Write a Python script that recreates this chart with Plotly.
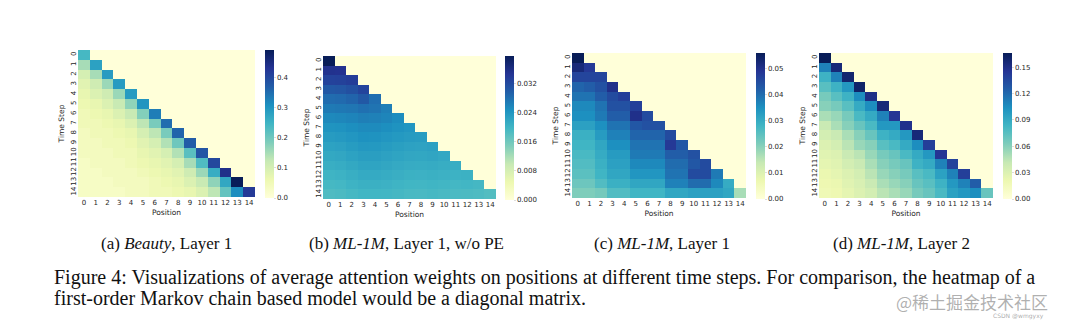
import plotly.graph_objects as go

W, H = 1080, 323

positions = list(range(15))
tick_labels = [str(i) for i in positions]

# Lower-triangular attention weights (row = time step, col = position)
beauty_l1 = [
    [0.24],
    [0.15, 0.28],
    [0.10, 0.15, 0.29],
    [0.08, 0.11, 0.16, 0.29],
    [0.07, 0.09, 0.11, 0.16, 0.29],
    [0.06, 0.07, 0.09, 0.12, 0.17, 0.30],
    [0.05, 0.06, 0.07, 0.09, 0.12, 0.18, 0.33],
    [0.05, 0.05, 0.06, 0.07, 0.09, 0.13, 0.19, 0.35],
    [0.04, 0.05, 0.05, 0.06, 0.07, 0.10, 0.13, 0.19, 0.36],
    [0.04, 0.04, 0.05, 0.05, 0.06, 0.08, 0.10, 0.14, 0.20, 0.37],
    [0.04, 0.04, 0.04, 0.05, 0.05, 0.07, 0.08, 0.10, 0.14, 0.22, 0.38],
    [0.03, 0.04, 0.04, 0.04, 0.05, 0.06, 0.07, 0.08, 0.10, 0.15, 0.23, 0.40],
    [0.03, 0.03, 0.04, 0.04, 0.04, 0.05, 0.06, 0.07, 0.08, 0.11, 0.16, 0.26, 0.44],
    [0.03, 0.03, 0.03, 0.04, 0.04, 0.04, 0.05, 0.06, 0.07, 0.09, 0.12, 0.17, 0.27, 0.49],
    [0.03, 0.03, 0.03, 0.03, 0.04, 0.04, 0.05, 0.05, 0.06, 0.07, 0.09, 0.13, 0.21, 0.31, 0.42],
]

ml1m_l1_nope = [
    [0.0394],
    [0.0350, 0.0348],
    [0.0328, 0.0330, 0.0334],
    [0.0302, 0.0305, 0.0312, 0.0326],
    [0.0282, 0.0284, 0.0290, 0.0302, 0.0280],
    [0.0268, 0.0270, 0.0272, 0.0278, 0.0274, 0.0264],
    [0.0254, 0.0256, 0.0259, 0.0264, 0.0262, 0.0258, 0.0250],
    [0.0242, 0.0244, 0.0248, 0.0252, 0.0252, 0.0248, 0.0244, 0.0240],
    [0.0233, 0.0235, 0.0240, 0.0245, 0.0244, 0.0240, 0.0236, 0.0233, 0.0231],
    [0.0224, 0.0226, 0.0232, 0.0237, 0.0236, 0.0232, 0.0228, 0.0225, 0.0223, 0.0226],
    [0.0216, 0.0218, 0.0224, 0.0229, 0.0229, 0.0225, 0.0221, 0.0218, 0.0217, 0.0219, 0.0215],
    [0.0208, 0.0210, 0.0216, 0.0221, 0.0221, 0.0218, 0.0214, 0.0211, 0.0210, 0.0212, 0.0209, 0.0209],
    [0.0200, 0.0202, 0.0208, 0.0213, 0.0213, 0.0210, 0.0207, 0.0204, 0.0203, 0.0205, 0.0203, 0.0202, 0.0204],
    [0.0193, 0.0195, 0.0201, 0.0205, 0.0205, 0.0203, 0.0200, 0.0197, 0.0196, 0.0198, 0.0196, 0.0195, 0.0196, 0.0194],
    [0.0186, 0.0188, 0.0193, 0.0197, 0.0197, 0.0196, 0.0194, 0.0191, 0.0190, 0.0192, 0.0190, 0.0189, 0.0188, 0.0187, 0.0183],
]

ml1m_l1 = [
    [0.0558],
    [0.052, 0.048],
    [0.046, 0.046, 0.046],
    [0.041, 0.042, 0.044, 0.050],
    [0.039, 0.039, 0.042, 0.045, 0.047],
    [0.036, 0.036, 0.039, 0.044, 0.044, 0.047],
    [0.035, 0.035, 0.038, 0.042, 0.042, 0.050, 0.045],
    [0.032, 0.032, 0.035, 0.039, 0.039, 0.043, 0.044, 0.044],
    [0.029, 0.029, 0.033, 0.037, 0.037, 0.041, 0.041, 0.041, 0.045],
    [0.028, 0.028, 0.031, 0.035, 0.035, 0.039, 0.039, 0.039, 0.048, 0.043],
    [0.027, 0.027, 0.030, 0.033, 0.033, 0.038, 0.038, 0.038, 0.042, 0.042, 0.044],
    [0.026, 0.026, 0.029, 0.032, 0.032, 0.036, 0.036, 0.036, 0.040, 0.040, 0.043, 0.045],
    [0.025, 0.025, 0.028, 0.031, 0.031, 0.034, 0.034, 0.034, 0.039, 0.039, 0.045, 0.045, 0.038],
    [0.023, 0.023, 0.026, 0.029, 0.029, 0.031, 0.031, 0.031, 0.037, 0.037, 0.040, 0.040, 0.036, 0.030],
    [0.021, 0.021, 0.022, 0.026, 0.026, 0.028, 0.028, 0.028, 0.031, 0.031, 0.032, 0.032, 0.032, 0.031, 0.017],
]

ml1m_l2 = [
    [0.166],
    [0.110, 0.155],
    [0.085, 0.110, 0.158],
    [0.075, 0.085, 0.100, 0.160],
    [0.065, 0.075, 0.085, 0.105, 0.150],
    [0.060, 0.065, 0.075, 0.090, 0.105, 0.155],
    [0.050, 0.055, 0.065, 0.080, 0.090, 0.110, 0.145],
    [0.040, 0.050, 0.060, 0.070, 0.080, 0.100, 0.100, 0.148],
    [0.035, 0.040, 0.050, 0.060, 0.070, 0.085, 0.090, 0.100, 0.155],
    [0.030, 0.035, 0.045, 0.055, 0.060, 0.075, 0.080, 0.090, 0.105, 0.140],
    [0.028, 0.030, 0.040, 0.045, 0.055, 0.065, 0.070, 0.080, 0.090, 0.100, 0.145],
    [0.025, 0.028, 0.035, 0.040, 0.050, 0.060, 0.065, 0.070, 0.085, 0.090, 0.110, 0.138],
    [0.022, 0.025, 0.030, 0.035, 0.045, 0.055, 0.060, 0.065, 0.075, 0.080, 0.095, 0.110, 0.140],
    [0.020, 0.022, 0.028, 0.032, 0.040, 0.050, 0.055, 0.060, 0.070, 0.075, 0.085, 0.100, 0.110, 0.125],
    [0.018, 0.020, 0.025, 0.030, 0.035, 0.045, 0.050, 0.055, 0.065, 0.070, 0.080, 0.095, 0.100, 0.105, 0.070],
]

subcaptions = [
    "(a) <i>Beauty</i>, Layer 1",
    "(b) <i>ML-1M</i>, Layer 1, w/o PE",
    "(c) <i>ML-1M</i>, Layer 1",
    "(d) <i>ML-1M</i>, Layer 2",
]
caption_lines = [
    "Figure 4: Visualizations of average attention weights on positions at different time steps. For comparison, the heatmap of a",
    "first-order Markov chain based model would be a diagonal matrix.",
]

cb_ticks = [
    [0.0, 0.1, 0.2, 0.3, 0.4],
    [0.0, 0.008, 0.016, 0.024, 0.032],
    [0.0, 0.01, 0.02, 0.03, 0.04, 0.05],
    [0.0, 0.03, 0.06, 0.09, 0.12, 0.15],
]
cb_formats = [".1f", ".3f", ".2f", ".2f"]

YLGNBU = [
    [0.0, "#ffffd9"], [0.125, "#edf8b1"], [0.25, "#c7e9b4"], [0.375, "#7fcdbb"],
    [0.5, "#41b6c4"], [0.625, "#1d91c0"], [0.75, "#225ea8"], [0.875, "#253494"],
    [1.0, "#081d58"],
]

def full(tri):
    n = len(positions)
    return [row + [0.0] * (n - len(row)) for row in tri]

datasets = [beauty_l1, ml1m_l1_nope, ml1m_l1, ml1m_l2]

# pixel boxes: (left, right, top, bottom) for heatmaps; colorbar left x
boxes = [
    (78, 255, 50, 197, 265),
    (323, 496, 56, 199, 505),
    (572, 746, 53, 198, 756),
    (819, 993, 53, 198, 1003),
]
caption_centers = [166, 406, 662, 901]

TXT = "#262626"
fig = go.Figure()
layout = dict(
    width=W, height=H, margin=dict(l=0, r=0, t=0, b=0),
    paper_bgcolor="white", plot_bgcolor="white", showlegend=False,
    annotations=[],
)

for k, (tri, box) in enumerate(zip(datasets, boxes)):
    l, r, t, b, cbx = box
    sfx = "" if k == 0 else str(k + 1)
    z = full(tri)
    fig.add_trace(go.Heatmap(
        z=z, x=positions, y=positions, xaxis="x" + sfx, yaxis="y" + sfx,
        coloraxis="coloraxis" + sfx, xgap=0, ygap=0, hoverinfo="skip",
    ))
    zmax = max(max(row) for row in tri)
    layout["coloraxis" + sfx] = dict(
        colorscale=YLGNBU, cmin=0, cmax=zmax,
        colorbar=dict(
            x=cbx / W, xanchor="left", y=1 - t / H, yanchor="top",
            len=(b - t + 1) / H, lenmode="fraction",
            thickness=9, thicknessmode="pixels", xpad=0, ypad=0,
            outlinewidth=0, ticks="outside", ticklen=2, tickcolor="#dddddd",
            tickvals=cb_ticks[k], tickformat=cb_formats[k],
            tickfont=dict(family="DejaVu Sans", size=7, color=TXT),
        ),
    )
    layout["xaxis" + sfx] = dict(
        domain=[l / W, r / W], anchor="y" + sfx, range=[-0.5, 14.5],
        tickvals=positions, ticktext=tick_labels, ticks="", showgrid=False,
        zeroline=False, showline=False,
        tickfont=dict(family="DejaVu Sans", size=7, color=TXT),
        title=dict(text="Position", standoff=3,
                   font=dict(family="DejaVu Sans", size=7.5, color=TXT)),
    )
    layout["yaxis" + sfx] = dict(
        domain=[1 - b / H, 1 - t / H], anchor="x" + sfx, range=[14.5, -0.5],
        tickvals=positions, ticktext=tick_labels, ticks="", tickangle=-90,
        showgrid=False, zeroline=False, showline=False,
        tickfont=dict(family="DejaVu Sans", size=7, color=TXT),
        title=dict(text="Time Step", standoff=3,
                   font=dict(family="DejaVu Sans", size=7.5, color=TXT)),
    )
    layout["annotations"].append(dict(
        text=subcaptions[k], x=caption_centers[k] / W, y=1 - 243 / H,
        xref="paper", yref="paper", xanchor="center", yanchor="middle",
        showarrow=False, font=dict(family="Liberation Serif", size=17, color="#111"),
    ))

layout["annotations"].append(dict(
    text=caption_lines[0], x=52 / W, y=1 - 277 / H, xref="paper", yref="paper",
    xanchor="left", yanchor="middle", showarrow=False,
    font=dict(family="Liberation Serif", size=20, color="#111"),
))
layout["annotations"].append(dict(
    text=caption_lines[1], x=52 / W, y=1 - 298 / H, xref="paper", yref="paper",
    xanchor="left", yanchor="middle", showarrow=False,
    font=dict(family="Liberation Serif", size=20, color="#111"),
))
layout["annotations"].append(dict(
    text="@稀土掘金技术社区", x=1050 / W, y=1 - 301 / H, xref="paper", yref="paper",
    xanchor="right", yanchor="middle", showarrow=False,
    font=dict(family="Noto Sans CJK SC", size=17, color="rgba(150,150,150,0.75)"),
))
layout["annotations"].append(dict(
    text="CSDN @wmgyxy", x=1046 / W, y=1 - 316 / H, xref="paper", yref="paper",
    xanchor="right", yanchor="middle", showarrow=False,
    font=dict(family="DejaVu Sans", size=6, color="rgba(150,150,150,0.8)"),
))

fig.update_layout(**layout)
fig.write_html("out.html")
